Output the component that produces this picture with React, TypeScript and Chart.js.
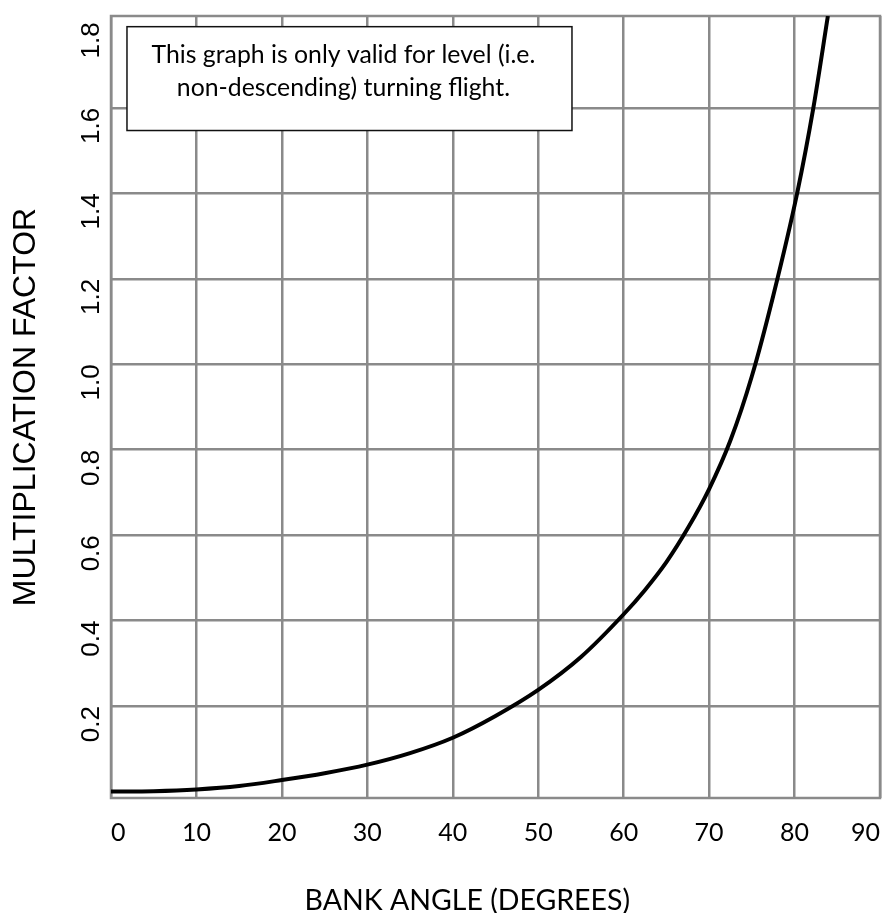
import { useEffect, useRef } from "react";
import { Chart, registerables } from "chart.js";

Chart.register(...registerables);

// Curve (bank angle in degrees -> multiplication factor)
const BANK_ANGLE = [0, 5, 10, 15, 20, 25, 30, 35, 40, 45, 50, 55, 60, 62.5, 65, 67.5, 70, 72.5, 75, 77.5, 80.3, 82.2, 83.9];
const FACTOR = [0, 0.001, 0.005, 0.013, 0.027, 0.043, 0.063, 0.09, 0.126, 0.177, 0.238, 0.315, 0.415, 0.472, 0.537, 0.616, 0.708, 0.822, 0.972, 1.16, 1.4, 1.6, 1.815];

const X_TICKS = [0, 10, 20, 30, 40, 50, 60, 70, 80, 90];
const Y_TICKS = [0.2, 0.4, 0.6, 0.8, 1.0, 1.2, 1.4, 1.6, 1.8];

const X_TITLE = "BANK ANGLE (DEGREES)";
const Y_TITLE = "MULTIPLICATION FACTOR";
const NOTE_LINES = ["This graph is only valid for level (i.e.", "non-descending) turning flight."];

const W = 886;
const H = 913;
const GRID = "#8a8a8a";

const framePlugin = {
  id: "frame",
  beforeDatasetsDraw(chart: any) {
    const { ctx, chartArea } = chart;
    ctx.save();
    ctx.strokeStyle = GRID;
    ctx.lineWidth = 2.5;
    ctx.strokeRect(chartArea.left, chartArea.top, chartArea.right - chartArea.left, chartArea.bottom - chartArea.top);
    ctx.restore();
  },
};

const xTitlePlugin = {
  id: "xTitle",
  afterDraw(chart: any) {
    const { ctx } = chart;
    const x = chart.scales.x;
    ctx.save();
    ctx.fillStyle = "#000000";
    ctx.font = "28.5px Lato";
    ctx.textAlign = "center";
    ctx.textBaseline = "alphabetic";
    ctx.fillText(X_TITLE, x.getPixelForValue(41.7), x.bottom - 3);
    ctx.restore();
  },
};

const notePlugin = {
  id: "note",
  afterDatasetsDraw(chart: any) {
    const { ctx } = chart;
    const x = chart.scales.x;
    const y = chart.scales.y;
    const left = x.getPixelForValue(1.87);
    const right = x.getPixelForValue(53.95);
    const top = y.getPixelForValue(1.79);
    const bottom = y.getPixelForValue(1.547);
    ctx.save();
    ctx.fillStyle = "#ffffff";
    ctx.fillRect(left, top, right - left, bottom - top);
    ctx.strokeStyle = "#111111";
    ctx.lineWidth = 1.5;
    ctx.strokeRect(left, top, right - left, bottom - top);
    ctx.fillStyle = "#000000";
    ctx.font = "24.8px Lato";
    ctx.textAlign = "center";
    ctx.textBaseline = "alphabetic";
    const cx = x.getPixelForValue(27.2);
    ctx.fillText(NOTE_LINES[0], cx, y.getPixelForValue(1.706));
    ctx.fillText(NOTE_LINES[1], cx, y.getPixelForValue(1.627));
    ctx.restore();
  },
};

export default function App() {
  const ref = useRef<HTMLCanvasElement | null>(null);

  useEffect(() => {
    if (!ref.current) return;
    const chart = new Chart(ref.current, {
      type: "line",
      data: {
        datasets: [
          {
            data: BANK_ANGLE.map((a, i) => ({ x: a, y: FACTOR[i] })),
            borderColor: "#000000",
            borderWidth: 4,
            pointRadius: 0,
            fill: false,
            cubicInterpolationMode: "monotone",
          },
        ],
      },
      options: {
        responsive: false,
        animation: false,
        devicePixelRatio: 1,
        layout: { padding: { top: 16, right: 6, left: 0, bottom: 0 } },
        plugins: { legend: { display: false }, tooltip: { enabled: false } },
        scales: {
          x: {
            type: "linear",
            min: 0,
            max: 90,
            afterBuildTicks: (s: any) => {
              s.ticks = X_TICKS.map((v) => ({ value: v }));
            },
            afterFit: (s: any) => {
              s.height = 115;
              s.paddingLeft = 0;
              s.paddingRight = 0;
            },
            ticks: {
              padding: 20,
              align: "inner",
              autoSkip: false,
              maxRotation: 0,
              minRotation: 0,
              color: "#000000",
              font: { family: "Lato", size: 25 },
            },
            grid: { color: GRID, lineWidth: 2.5, drawTicks: false },
            border: { display: false },
            title: { display: false },
          },
          y: {
            type: "linear",
            min: -0.015,
            max: 1.815,
            afterBuildTicks: (s: any) => {
              s.ticks = Y_TICKS.map((v) => ({ value: v }));
            },
            afterFit: (s: any) => {
              s.width = 111;
              s.paddingTop = 0;
              s.paddingBottom = 0;
            },
            ticks: {
              padding: 19,
              autoSkip: false,
              minRotation: 90,
              maxRotation: 90,
              color: "#000000",
              font: { family: "Liberation Sans", size: 26 },
              callback: (v: any) => Number(v).toFixed(1),
            },
            grid: {
              color: (c: any) => (c.tick && Math.abs(c.tick.value - 1.8) < 1e-6 ? "rgba(0,0,0,0)" : GRID),
              lineWidth: 2.5,
              drawTicks: false,
            },
            border: { display: false },
            title: {
              display: true,
              text: Y_TITLE,
              color: "#000000",
              font: { family: "Liberation Sans", size: 32, lineHeight: 1.2 },
              padding: { top: 7, bottom: 0 },
            },
          },
        },
      },
      plugins: [framePlugin, notePlugin, xTitlePlugin],
    } as any);
    return () => chart.destroy();
  }, []);

  return (
    <div style={{ position: "absolute", left: 0, top: 0, width: W, height: H, background: "#fff" }}>
      <canvas ref={ref} width={W} height={H} style={{ display: "block", width: W, height: H }} />
    </div>
  );
}
